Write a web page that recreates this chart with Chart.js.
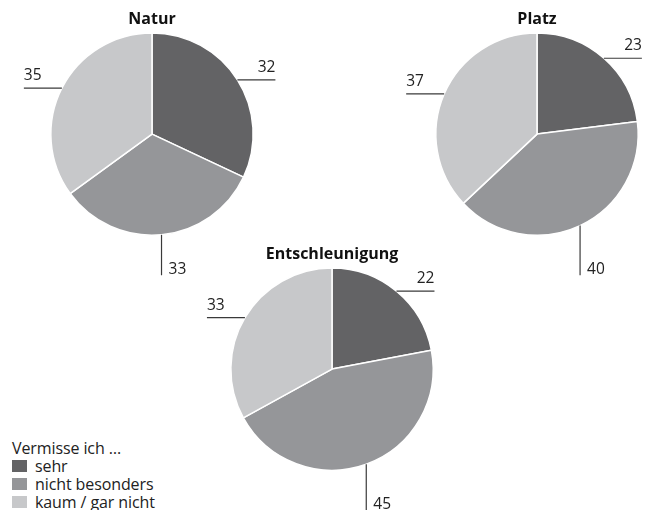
<!DOCTYPE html>
<html>
<head>
<meta charset="utf-8">
<script src="https://cdn.jsdelivr.net/npm/chart.js@4.4.1/dist/chart.umd.min.js"></script>
<style>
  body { margin: 0; background: #fff; font-family: 'Open Sans', sans-serif; }
  #wrap { position: relative; width: 659px; height: 510px; overflow: hidden; }
  .pie { position: absolute; }
  #legend { position: absolute; left: 12px; top: 439px; font-size: 16px; color: #222; line-height: 18px; letter-spacing: -0.1px; }
  #legend .row { display: flex; align-items: center; }
  #legend .sw { width: 15px; height: 12px; margin-right: 8px; }
</style>
</head>
<body>
<div id="wrap">
  <canvas id="natur" class="pie" width="300" height="285" style="left:0;top:0"></canvas>
  <canvas id="platz" class="pie" width="269" height="285" style="left:390px;top:0"></canvas>
  <canvas id="entsch" class="pie" width="270" height="270" style="left:190px;top:240px"></canvas>
  <div id="legend"></div>
</div>
<script>
// Kategorien + Werte (Prozent)
const categories = ['sehr', 'nicht besonders', 'kaum / gar nicht'];
const naturValues = [32, 33, 35];
const platzValues = [23, 40, 37];
const entschValues = [22, 45, 33];
const colors = ['#636365', '#959699', '#c7c8ca'];

// Beschriftung mit Linien an den Segmenten
const leaderLabels = {
  id: 'leaderLabels',
  afterDatasetsDraw(chart) {
    const ctx = chart.ctx;
    const meta = chart.getDatasetMeta(0);
    const values = chart.data.datasets[0].data;
    ctx.save();
    ctx.strokeStyle = '#3a3a3a';
    ctx.lineWidth = 1.2;
    ctx.fillStyle = '#222';
    ctx.font = '15.5px "Open Sans"';
    meta.data.forEach((arc, i) => {
      const p = arc.getProps(['x', 'y', 'startAngle', 'endAngle', 'outerRadius'], true);
      const mid = (p.startAngle + p.endAngle) / 2;
      const px = p.x + Math.cos(mid) * p.outerRadius;
      const py = p.y + Math.sin(mid) * p.outerRadius;
      const txt = String(values[i]);
      ctx.beginPath();
      if (Math.sin(mid) > 0.85) {
        const endY = p.y + p.outerRadius + 40;
        ctx.moveTo(px, py);
        ctx.lineTo(px, endY);
        ctx.stroke();
        ctx.textAlign = 'left';
        ctx.textBaseline = 'alphabetic';
        ctx.fillText(txt, px + 7, endY - 1);
      } else {
        const dir = Math.cos(mid) > 0 ? 1 : -1;
        const endX = px + dir * 38;
        ctx.moveTo(px, py);
        ctx.lineTo(endX, py);
        ctx.stroke();
        ctx.textAlign = dir > 0 ? 'right' : 'left';
        ctx.textBaseline = 'alphabetic';
        ctx.fillText(txt, endX, py - 8);
      }
    });
    ctx.restore();
  }
};

function makePie(id, title, values, pad) {
  return new Chart(document.getElementById(id), {
    type: 'pie',
    data: {
      labels: categories,
      datasets: [{
        data: values,
        backgroundColor: colors,
        borderColor: '#ffffff',
        borderWidth: 1.5
      }]
    },
    options: {
      responsive: false,
      animation: false,
      events: [],
      layout: { padding: pad },
      plugins: {
        legend: { display: false },
        tooltip: { enabled: false },
        title: {
          display: true,
          text: title,
          color: '#111',
          font: { family: 'Open Sans', size: 16, weight: 'bold', lineHeight: 1.2 },
          padding: { top: 0, bottom: 3 }
        }
      }
    },
    plugins: [leaderLabels]
  });
}

makePie('natur', 'Natur', naturValues, { left: 50, right: 46, top: 10, bottom: 49 });
makePie('platz', 'Platz', platzValues, { left: 45, right: 20, top: 10, bottom: 49 });
makePie('entsch', 'Entschleunigung', entschValues, { left: 40, right: 26, top: 5, bottom: 39 });

// Legende
const legend = document.getElementById('legend');
legend.innerHTML = '<div>Vermisse ich …</div>' + categories.map((c, i) =>
  '<div class="row"><span class="sw" style="background:' + colors[i] + '"></span>' + c + '</div>'
).join('');
</script>
</body>
</html>
